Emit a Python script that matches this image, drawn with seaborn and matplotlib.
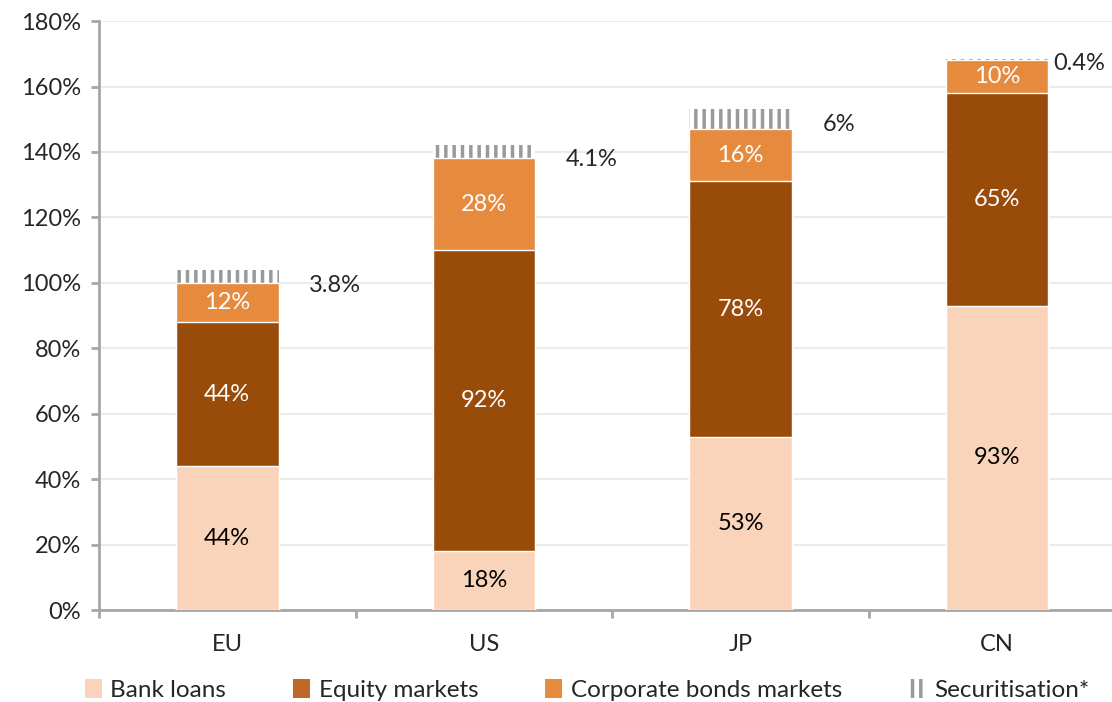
import seaborn as sns
import pandas as pd
import numpy as np
import matplotlib.pyplot as plt
from matplotlib.patches import Patch

regions = ["EU", "US", "JP", "CN"]
bank_loans = [44, 18, 53, 93]
equity = [44, 92, 78, 65]
corp_bonds = [12, 28, 16, 10]
securitisation = [3.8, 4.1, 6, 0.4]
sec_labels = ["3.8%", "4.1%", "6%", "0.4%"]
series_names = ["Bank loans", "Equity markets", "Corporate bonds markets", "Securitisation*"]

c_bank = "#FAD4BA"
c_equity = "#994C0A"
c_bonds = "#E68A3E"
c_sec = "#9A9A9A"

sns.set_style("white")
plt.rcParams["font.family"] = ["Lato", "DejaVu Sans"]
plt.rcParams["hatch.linewidth"] = 2.5

df = pd.DataFrame({"region": regions, "bank": bank_loans, "equity": equity,
                   "bonds": corp_bonds, "sec": securitisation})
df["c1"] = df["bank"]
df["c2"] = df["c1"] + df["equity"]
df["c3"] = df["c2"] + df["bonds"]
df["c4"] = df["c3"] + df["sec"]

fig = plt.figure(figsize=(11.12, 7.02), dpi=100)
ax = fig.add_axes([0.089, 0.131, 0.923, 0.839])

w = 0.40
sns.barplot(data=df, x="region", y="c4", color="white", edgecolor=c_sec, hatch="||",
            linewidth=0, width=w, saturation=1, ax=ax, zorder=2)
sns.barplot(data=df, x="region", y="c3", color=c_bonds, edgecolor="white",
            linewidth=1, width=w, saturation=1, ax=ax, zorder=3)
sns.barplot(data=df, x="region", y="c2", color=c_equity, edgecolor="white",
            linewidth=1, width=w, saturation=1, ax=ax, zorder=4)
sns.barplot(data=df, x="region", y="c1", color=c_bank, edgecolor="white",
            linewidth=1, width=w, saturation=1, ax=ax, zorder=5)

fs = 17
# segment labels
for i in range(len(regions)):
    segs = [(0, df["c1"][i], bank_loans[i], "black"),
            (df["c1"][i], df["c2"][i], equity[i], "white"),
            (df["c2"][i], df["c3"][i], corp_bonds[i], "white")]
    for lo, hi, v, col in segs:
        ax.text(i, (lo + hi) / 2, f"{v:g}%", ha="center", va="center",
                color=col, fontsize=fs, zorder=6)
    if i == len(regions) - 1:
        ax.text(i + w / 2 + 0.02, df["c4"][i] - 1.5, sec_labels[i], ha="left",
                va="center", fontsize=fs, zorder=6)
    else:
        ax.text(i + w / 2 + 0.12, df["c4"][i] - 4.5, sec_labels[i], ha="left",
                va="center", fontsize=fs, zorder=6)

ax.set_xlim(-0.5, 3.5)
ax.set_ylim(0, 180)
ax.set_yticks(np.arange(0, 181, 20))
ax.set_yticklabels([f"{v}%" for v in range(0, 181, 20)])
ax.yaxis.grid(True, color="#EBEBEB", linewidth=1.5, zorder=0)
ax.set_axisbelow(True)
ax.set_xlabel("")
ax.set_ylabel("")

for s in ["top", "right"]:
    ax.spines[s].set_visible(False)
for s in ["left", "bottom"]:
    ax.spines[s].set_color("#A6A6A6")
    ax.spines[s].set_linewidth(2)

ax.set_xticks(np.arange(-0.5, 4, 1), minor=False)
ax.set_xticklabels([])
ax.set_xticks(np.arange(0, 4), minor=True)
ax.set_xticklabels(regions, minor=True)
ax.tick_params(axis="x", which="major", direction="out", length=6, width=2,
               color="#A6A6A6", bottom=True)
ax.tick_params(axis="x", which="minor", length=0, pad=17, labelsize=fs)
ax.tick_params(axis="y", direction="out", length=6, width=2, color="#A6A6A6",
               left=True, labelsize=fs, pad=7)

handles = [Patch(facecolor=c_bank, edgecolor="none"),
           Patch(facecolor="#C0682A", edgecolor="none"),
           Patch(facecolor=c_bonds, edgecolor="none"),
           Patch(facecolor="white", edgecolor=c_sec, hatch="||", linewidth=0)]
fig.legend(handles, series_names, loc="lower center", bbox_to_anchor=(0.528, -0.03),
           ncol=4, frameon=False, fontsize=17.5, handlelength=0.7, handleheight=0.8,
           handletextpad=0.35, columnspacing=2.75)

fig.savefig("out.png", dpi=100)
